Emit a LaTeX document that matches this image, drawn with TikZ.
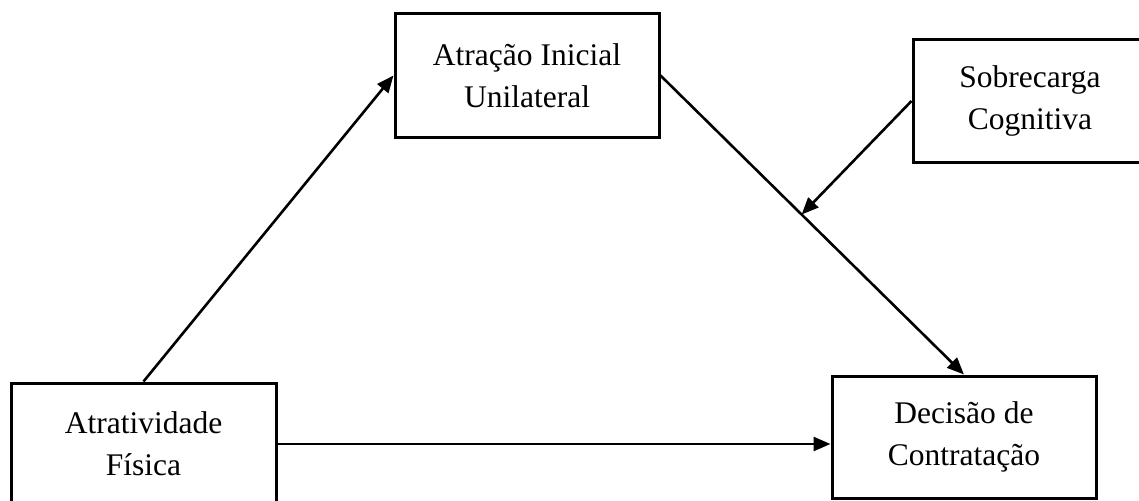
\documentclass[tikz,border=0pt]{standalone}
\usepackage{fontspec}
\setmainfont{Liberation Serif}
\usetikzlibrary{arrows.meta,calc}
\begin{document}
\begin{tikzpicture}[x=1pt,y=-1pt,
  box/.style={draw,line width=3pt,rectangle,inner sep=0pt,align=center,
    font=\fontsize{31.5}{42}\selectfont},
  arr/.style={line width=2.6pt,-{Triangle[length=17pt,width=14pt]}}]
\useasboundingbox (0,0) rectangle (1139,500);
\node[box,minimum width=264pt,minimum height=123pt] (b1) at (527,75.5) {Atração Inicial\\Unilateral};
\node[box,minimum width=234pt,minimum height=122pt] (b2) at (1030,101) {Sobrecarga\\Cognitiva};
\node[box,minimum width=265pt,minimum height=122pt] (b3) at (143.5,444) {Atratividade\\Física};
\node[box,minimum width=264pt,minimum height=122pt] (b4) at (964,437) {Decisão de\\Contratação};
\coordinate (m) at ($(b1.east)!0.465!(b4.north)$);
\draw[arr] (b3.north) -- (b1.west);
\draw[arr] (b1.east) -- (b4.north);
\draw[arr] (b3.east) -- (b3.east -| b4.west);
\draw[arr] (b2.west) -- (m);
\end{tikzpicture}
\end{document}
